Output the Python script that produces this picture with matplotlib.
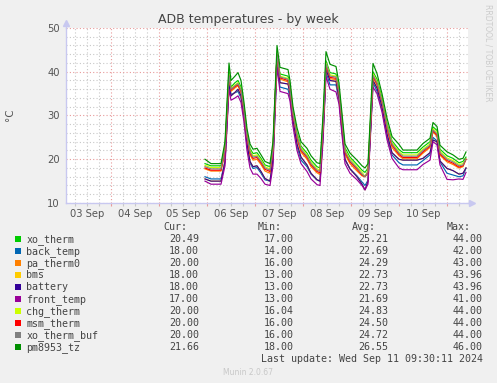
import matplotlib
matplotlib.use("Agg")
import matplotlib.pyplot as plt
import matplotlib.dates as mdates
from matplotlib.patches import Rectangle
from matplotlib.ticker import MultipleLocator, NullFormatter, FuncFormatter
import numpy as np

# hours since 2024-09-03 00:00
hours = [71, 74, 79, 81, 83, 84, 86, 87.5, 89, 90.5, 92, 93.5, 95, 97, 99, 101,
         103.5, 105, 107, 108.5, 112.5, 113.5, 115, 117, 119, 122, 124, 127,
         128.5, 130, 131.5, 133.5, 136.5, 138, 139.5, 141, 143.5, 147, 149.5,
         151, 152.5, 155, 157, 159.5, 162, 164.5, 168, 170, 177, 180, 183.5,
         185, 187, 188.5, 192, 195, 198, 200, 201.5]

xo_therm = [19, 18.5, 18.5, 23, 40, 36.5, 37.5, 38, 36.5, 32, 26, 22.5, 21.3, 21.5,
            20.2, 18.7, 18.3, 23, 44, 39.5, 39, 36.8, 31, 26, 23, 21.4, 19.8, 18.3,
            18, 28.5, 42.5, 39.8, 39.5, 36, 29.5, 22.6, 20.5, 18.8, 17.5, 17, 18,
            40, 38.3, 34, 28.2, 24.2, 22.2, 21.5, 21.5, 22.8, 24, 27.4, 26.6, 22.3,
            20.8, 20.2, 19.2, 19.5, 20.49]
back_temp = [16, 15.5, 15.5, 19.5, 37, 34.8, 35.2, 35.5, 34, 29.5, 23, 19.2, 17.9,
             18.1, 16.8, 15.3, 15, 19.5, 42, 36.5, 36, 34.2, 28.5, 23, 19.8, 18.3,
             16.6, 15.3, 15, 25, 40, 37, 37, 33.5, 26.5, 19.8, 17.8, 16.2, 14.8, 14,
             15.2, 37.5, 35.6, 31.3, 25.2, 21, 19.2, 18.7, 18.7, 19.7, 21, 25, 24.2,
             19.4, 16.8, 16.4, 16, 16.2, 18]
pa_therm0 = [17.8, 17.3, 17.3, 21.7, 38.7, 35.5, 36.3, 36.8, 35.2, 30.7, 24.7, 21,
             19.8, 20, 18.8, 17.3, 16.8, 21.6, 43, 38.3, 37.7, 35.5, 29.6, 24.6,
             21.6, 20, 18.3, 16.9, 16.5, 27, 41.2, 38.4, 38.2, 34.7, 28, 21.1, 19,
             17.3, 16.2, 16, 16.8, 38.7, 37, 32.7, 26.8, 22.7, 20.8, 20.1, 20.1,
             21.4, 22.7, 26.3, 25.2, 20.9, 19.4, 18.8, 18, 18.3, 20]
battery = [15.5, 15, 15, 19.5, 37, 34.5, 35.3, 36, 34.5, 30, 23.5, 19.5, 18.3, 18.5,
           17.2, 15.6, 15, 20, 43.96, 37.5, 37.2, 35, 29, 23.5, 20.5, 18.7, 16.8,
           15.3, 15, 25.5, 40.5, 38, 37.8, 34, 27, 20, 17.8, 16, 14.3, 13, 15, 38,
           36.3, 32, 25.8, 21.5, 20, 19.8, 19.8, 20.2, 21.5, 24.4, 24, 19.6, 17.9,
           17.4, 16.6, 16.8, 18]
bms = list(battery)
front_temp = [15, 14.3, 14.3, 18.5, 36, 33.5, 34, 34.5, 33, 28.5, 22, 18, 16.6, 16.6,
              15.6, 14.3, 14, 18.5, 41, 35.5, 35, 33.3, 27.5, 22, 19, 17.2, 15.5,
              14.2, 14, 24, 39, 36, 35.4, 32.6, 25.5, 19, 16.8, 15.3, 14, 13, 14.3,
              36.5, 35, 30.8, 24.5, 20.2, 18, 17.6, 17.6, 18.8, 19.8, 24, 23.3, 18.7,
              15.4, 15.3, 15.5, 15.4, 17]
chg_therm = [18.6, 18.1, 18.1, 22.5, 39.5, 36.2, 37, 37.5, 36, 31.5, 25.5, 22, 20.8,
             21, 19.8, 18.3, 17.8, 22.5, 44, 39, 38.5, 36.3, 30.6, 25.6, 22.6, 21,
             19.3, 17.8, 17.5, 28, 42, 39.3, 39, 35.6, 29, 22.1, 20, 18.3, 17, 16.04,
             17.5, 39.5, 37.8, 33.5, 27.8, 23.8, 21.7, 21, 21, 22.3, 23.5, 27, 26.1,
             21.8, 20.3, 19.7, 18.8, 19, 20]
msm_therm = [18, 17.5, 17.5, 22, 39, 35.8, 36.6, 37, 35.5, 31, 25, 21.4, 20.2, 20.4,
             19.2, 17.7, 17.2, 22, 44, 38.6, 38, 35.8, 30, 25, 22, 20.4, 18.7, 17.2,
             16.9, 27.3, 41.5, 38.7, 38.5, 35, 28.4, 21.5, 19.4, 17.7, 16.4, 16, 17,
             39, 37.2, 33, 27.2, 23.2, 21.1, 20.4, 20.4, 21.7, 23, 26.5, 25.5, 21.2,
             19.7, 19.1, 18.2, 18.5, 20]
xo_therm_buf = [18.3, 17.8, 17.8, 22.2, 39.2, 36, 36.8, 37.3, 35.8, 31.2, 25.2, 21.7,
                20.5, 20.7, 19.5, 18, 17.5, 22.2, 44, 38.8, 38.3, 36, 30.3, 25.3, 22.3,
                20.7, 19, 17.5, 17.2, 27.6, 41.8, 39, 38.8, 35.3, 28.7, 21.8, 19.7, 18,
                16.6, 16, 17.2, 39.2, 37.5, 33.2, 27.5, 23.5, 21.4, 20.7, 20.7, 22,
                23.2, 26.7, 25.8, 21.5, 20, 19.4, 18.5, 18.7, 20]
pm8953_tz = [20, 19, 19, 24, 42, 38, 39, 39.8, 38, 33, 27, 23.5, 22.3, 22.5, 21, 19.5,
             19, 24, 46, 41, 40.5, 38, 32, 27.2, 24, 22.5, 20.8, 19.2, 19, 30, 44.6,
             41.7, 41.2, 37.4, 30.5, 23.5, 21.4, 19.8, 18.5, 18, 19, 41.9, 39.6, 35,
             29.4, 25.2, 23.4, 22.1, 22.1, 23.6, 24.8, 28.4, 27.5, 23.2, 21.7, 21.0,
             20.0, 20.2, 21.66]

names = ["xo_therm", "back_temp", "pa_therm0", "bms", "battery", "front_temp",
         "chg_therm", "msm_therm", "xo_therm_buf", "pm8953_tz"]
series = [xo_therm, back_temp, pa_therm0, bms, battery, front_temp,
          chg_therm, msm_therm, xo_therm_buf, pm8953_tz]
colors = ["#00CC00", "#0066B3", "#FF8000", "#FFCC00", "#330099", "#990099",
          "#CCFF00", "#FF0000", "#808080", "#008F00"]
cur = ["20.49", "18.00", "20.00", "18.00", "18.00", "17.00", "20.00", "20.00", "20.00", "21.66"]
mins = ["17.00", "14.00", "16.00", "13.00", "13.00", "13.00", "16.04", "16.00", "16.00", "18.00"]
avgs = ["25.21", "22.69", "24.29", "22.73", "22.73", "21.69", "24.83", "24.50", "24.72", "26.55"]
maxs = ["44.00", "42.00", "43.00", "43.96", "43.96", "41.00", "44.00", "44.00", "44.00", "46.00"]

W, H = 497, 383
base = np.datetime64("2024-09-03T00:00")
times = base + (np.array(hours) * 60).astype(int).astype("timedelta64[m]")

def fx(x):
    return x / W

def fy(y):
    return 1 - y / H

fig = plt.figure(figsize=(W / 100, H / 100), dpi=100, facecolor="#F0F0F0")
ax = fig.add_axes([fx(66), fy(203), (468 - 66) / W, (203 - 28) / H])
ax.set_facecolor("white")

for name, vals, c in zip(names, series, colors):
    ax.plot(times, vals, color=c, lw=0.85, label=name)

ax.set_ylim(10, 50)
ax.set_xlim(base + np.timedelta64(90, "m"), base + np.timedelta64(int(202.5 * 60), "m"))

ax.yaxis.set_major_locator(MultipleLocator(10))
ax.yaxis.set_minor_locator(MultipleLocator(2))
ax.xaxis.set_major_locator(mdates.DayLocator())
ax.xaxis.set_major_formatter(NullFormatter())
ax.xaxis.set_minor_locator(mdates.HourLocator(byhour=[6, 12, 18]))

def day_label(v, pos):
    d = mdates.num2date(v)
    return d.strftime("%d %b") if d.hour == 12 else ""

ax.xaxis.set_minor_formatter(FuncFormatter(day_label))

ax.grid(which="major", color="#E89A9A", linestyle=(0, (1, 2)), lw=0.8)
ax.grid(which="minor", color="#C8C8C8", linestyle=(0, (1, 2)), lw=0.8)
ax.set_axisbelow(True)

for s in ["top", "right"]:
    ax.spines[s].set_visible(False)
for s in ["left", "bottom"]:
    ax.spines[s].set_color("#C8C8F0")
    ax.spines[s].set_linewidth(1.0)

ax.tick_params(axis="both", which="both", length=2, width=0.8, labelsize=7.2,
               labelcolor="#555555")
ax.tick_params(axis="x", which="major", color="#E89A9A")
ax.tick_params(axis="x", which="minor", color="#C8C8C8", pad=2.5)
ax.tick_params(axis="y", which="both", length=0, pad=4.5)

# axis arrows
ax.plot([0, 0], [1, 1.03], transform=ax.transAxes, color="#C8C8F0", lw=1, clip_on=False)
ax.plot(0, 1.03, marker="^", ms=5, color="#C8C8F0", transform=ax.transAxes, clip_on=False)
ax.plot([1, 1.01], [0, 0], transform=ax.transAxes, color="#C8C8F0", lw=1, clip_on=False)
ax.plot(1.01, 0, marker=">", ms=5, color="#C8C8F0", transform=ax.transAxes, clip_on=False)

fig.text(0.5, fy(20), "ADB temperatures - by week", ha="center", va="center",
         fontsize=9, color="#444444")
fig.text(fx(10), fy(115), "°C", rotation=90, ha="center", va="center",
         fontsize=7.5, color="#555555")
fig.text(fx(488), fy(53), "RRDTOOL / TOBI OETIKER", rotation=270, ha="center",
         va="center", fontsize=5.5, color="#CCCCCC")

mono = dict(family="DejaVu Sans Mono", fontsize=7.2, color="#444444", va="center")
fig.text(fx(163), fy(227.3), "Cur:", **mono)
fig.text(fx(257.7), fy(227.3), "Min:", **mono)
fig.text(fx(352.3), fy(227.3), "Avg:", **mono)
fig.text(fx(446.7), fy(227.3), "Max:", **mono)
for i, name in enumerate(names):
    y = 239.3 + i * 12.0
    fig.add_artist(Rectangle((fx(14.5), fy(y + 3)), 6 / W, 6 / H,
                             transform=fig.transFigure, color=colors[i], lw=0))
    fig.text(fx(26.3), fy(y), name, ha="left", **mono)
    fig.text(fx(199), fy(y), cur[i], ha="right", **mono)
    fig.text(fx(294), fy(y), mins[i], ha="right", **mono)
    fig.text(fx(388.3), fy(y), avgs[i], ha="right", **mono)
    fig.text(fx(483), fy(y), maxs[i], ha="right", **mono)
fig.text(fx(483), fy(359.3), "Last update: Wed Sep 11 09:30:11 2024", ha="right", **mono)
fig.text(fx(248), fy(372.3), "Munin 2.0.67", ha="center", va="center",
         fontsize=5.5, color="#C8C8C8")

plt.savefig("out.png", dpi=100, facecolor=fig.get_facecolor())
